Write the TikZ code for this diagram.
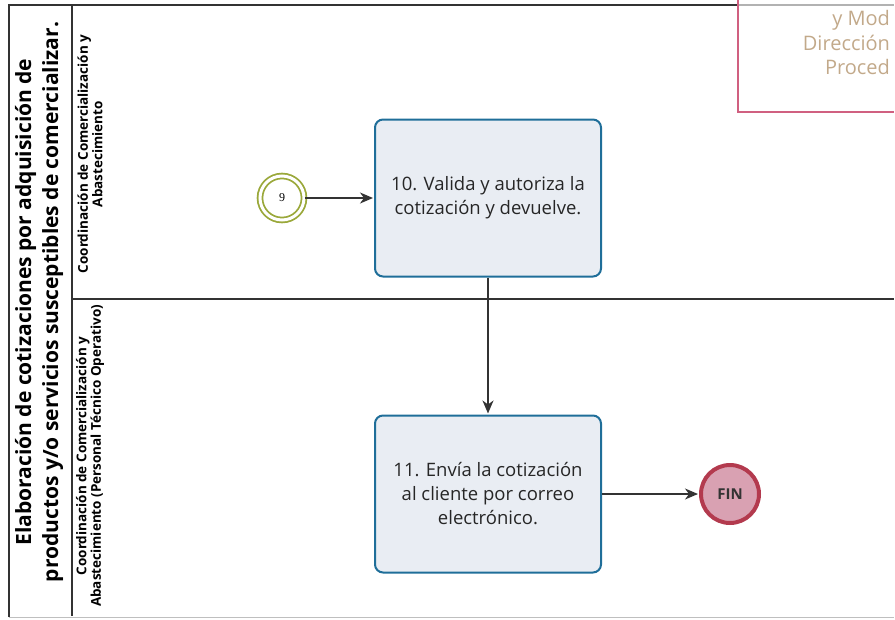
\documentclass[tikz,border=0pt]{standalone}
\usepackage{fontspec}
\setmainfont{Open Sans}
\newfontfamily\numfont{Liberation Serif}
\usetikzlibrary{arrows.meta,positioning}

\definecolor{taskblue}{HTML}{1F6E99}
\definecolor{taskfill}{HTML}{E9EDF3}
\definecolor{startgreen}{HTML}{9AA83A}
\definecolor{endred}{HTML}{B33A4E}
\definecolor{endfill}{HTML}{D9A1B2}
\definecolor{poolgray}{HTML}{333333}
\definecolor{boxred}{HTML}{D06080}
\definecolor{headtan}{HTML}{C2A98A}

\begin{document}
\begin{tikzpicture}[->,>={Stealth[length=13pt,width=11pt,inset=4pt]},shorten >=1pt,x=1pt,y=1pt,
                    line width=1.4pt,draw=poolgray,
                    task/.style={rectangle,rounded corners=8pt,draw=taskblue,line width=2pt,
                      fill=taskfill,minimum width=226pt,minimum height=157pt,align=center,
                      text=black!85,font=\fontsize{18.5}{24}\selectfont},
                    startev/.style={circle,draw=startgreen,line width=1.8pt,double=white,
                      double distance=3pt,minimum size=44pt,font=\numfont\fontsize{12}{12}\selectfont},
                    endev/.style={circle,draw=endred,line width=4pt,fill=endfill,
                      minimum size=58pt,font=\bfseries\fontsize{15}{15}\selectfont,text=poolgray},
                    pool/.style={-,draw=poolgray,line width=1.4pt},
                    lanehead/.style={rotate=90,align=center,font=\bfseries\fontsize{13.5}{14.5}\selectfont},
                    pagehead/.style={anchor=base east,text=headtan,font=\fontsize{20}{20}\selectfont}]

  \useasboundingbox (0,0) rectangle (895,-619);

  % pool and lanes
  \draw[pool] (9,-617) -- (9,-5) -- (738,-5);
  \draw[pool,draw=gray!60] (738,-5) -- (895,-5);
  \draw[pool] (72,-5) -- (72,-617);
  \draw[pool] (72,-299) -- (895,-299);
  \draw[pool,draw=gray!50,line width=0.8pt] (9,-617) -- (895,-617);

  \node (title) [rotate=90,align=center,font=\bfseries\fontsize{21}{27}\selectfont]
        at (39,-302) {Elaboración de cotizaciones por adquisición de\\
        productos y/o servicios susceptibles de comercializar.};
  \node[lanehead] (lane1) at (90,-154) {Coordinación de Comercialización y\\ Abastecimiento};
  \node[lanehead] (lane2) at (90,-456) {Coordinación de Comercialización y\\ Abastecimiento (Personal Técnico Operativo)};

  % header box of the page
  \draw[-,draw=boxred,line width=1.2pt] (738,0) -- (738,-112) -- (895,-112);
  \node[pagehead] (hd1) at (894,-25) {y Mod};
  \node[pagehead] (hd2) at (894,-50) {Dirección};
  \node[pagehead] (hd3) at (894,-74) {Proced};

  % process
  \node[task]   (10) at (488,-198) {10. Valida y autoriza la\\ cotización y devuelve.};
  \node[startev] (9) [left of=10,node distance=206pt] {9};
  \node[task]   (11) [below of=10,node distance=296pt] {11. Envía la cotización\\ al cliente por correo\\ electrónico.};
  \node[endev]  (fin) [right of=11,node distance=242pt] {FIN};

  \path (9)  edge (10)
        (10) edge (11)
        (11) edge (fin);
\end{tikzpicture}
\end{document}
